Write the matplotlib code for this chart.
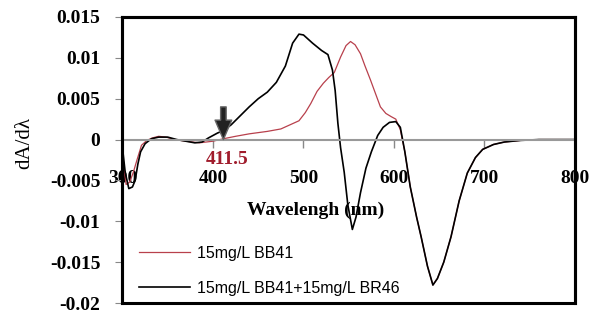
import matplotlib
matplotlib.use("Agg")
import matplotlib.pyplot as plt
from matplotlib.patches import Rectangle

# BB41 alone (red)
wl_bb41 = [300, 301, 304, 308, 312, 316, 321, 327, 333, 340, 348, 358, 370, 385, 400,
           411.5, 425, 440, 460, 475, 485, 495, 502, 508, 515, 522, 528, 534, 541, 547,
           552, 557, 563, 568, 574, 580, 585, 591, 597, 602, 607, 612, 618, 625, 630,
           637, 643, 648, 655, 663, 672, 681, 690, 698, 710, 722, 740, 760, 780, 800]
dA_bb41 = [0.0, -0.003, -0.0055, -0.0052, -0.004, -0.0025, -0.0007, -0.0001, 0.0002, 0.0004,
           0.0003, 0.0, -0.0002, -0.0004, -0.0002, 0.0001, 0.0004, 0.0007, 0.001, 0.0013,
           0.0018, 0.0023, 0.0033, 0.0044, 0.0059, 0.0069, 0.0076, 0.0082, 0.0101, 0.0115,
           0.012, 0.0116, 0.0105, 0.009, 0.0073, 0.0055, 0.004, 0.0032, 0.0028, 0.0025,
           0.0012, -0.0015, -0.0058, -0.0095, -0.0119, -0.0155, -0.0178, -0.017, -0.015,
           -0.0119, -0.0075, -0.0041, -0.0022, -0.0012, -0.0006, -0.0003, -0.0001, 0.0, 0.0, 0.0]

# BB41 + BR46 mixture (black)
wl_mix = [300, 303, 307, 311, 314, 317, 320, 325, 332, 340, 350, 360, 370, 380, 388, 395,
          405, 411.5, 420, 430, 440, 450, 460, 470, 480, 488, 495, 500, 510, 520, 527, 532,
          535, 538, 541, 545, 549, 554, 558, 563, 569, 575, 582, 588, 595, 602, 607, 612,
          618, 625, 630, 637, 643, 648, 655, 663, 672, 681, 690, 698, 710, 722, 740, 760,
          780, 800]
dA_mix = [-0.001, -0.004, -0.006, -0.0058, -0.005, -0.003, -0.0015, -0.0005, 0.0001, 0.0003,
          0.0003, 0.0, -0.0002, -0.0004, -0.0003, 0.0002, 0.0008, 0.0011, 0.0018, 0.0029,
          0.004, 0.005, 0.0058, 0.007, 0.009, 0.0118, 0.0129, 0.0128, 0.0118, 0.0109, 0.0104,
          0.0085, 0.006, 0.002, -0.001, -0.004, -0.008, -0.011, -0.0095, -0.0065, -0.0035,
          -0.0015, 0.0005, 0.0015, 0.0021, 0.0022, 0.0015, -0.0015, -0.0058, -0.0095, -0.0119,
          -0.0155, -0.0178, -0.017, -0.015, -0.0119, -0.0075, -0.0041, -0.0022, -0.0012,
          -0.0006, -0.0003, -0.0001, 0.0, 0.0, 0.0]

xticks = [300, 400, 500, 600, 700, 800]
yticks = [-0.02, -0.015, -0.01, -0.005, 0, 0.005, 0.01, 0.015]
ytick_labels = ["-0.02", "-0.015", "-0.01", "-0.005", "0", "0.005", "0.01", "0.015"]
peak_wl = 411.5

serif = "Liberation Serif"

fig = plt.figure(figsize=(5.94, 3.14), dpi=100)
ax = fig.add_axes([0.2062, 0.035, 0.7618, 0.9109])

ax.plot(wl_bb41, dA_bb41, color="#b8404c", lw=0.9, label="15mg/L BB41")
ax.plot(wl_mix, dA_mix, color="black", lw=1.2, label="15mg/L BB41+15mg/L BR46")

ax.set_xlim(300, 800)
ax.set_ylim(-0.02, 0.015)

# black frame around the plot area
for side in ["top", "right", "left"]:
    ax.spines[side].set_linewidth(2.2)
    ax.spines[side].set_color("black")
ax.add_patch(Rectangle((0, 0), 1, 1, transform=ax.transAxes, fill=False,
                       edgecolor="black", lw=2.2, clip_on=False, zorder=5))

# x axis crosses at y = 0 (gray)
ax.spines["bottom"].set_position(("data", 0))
ax.spines["bottom"].set_color("#999")
ax.spines["bottom"].set_linewidth(1.5)
ax.set_xticks(xticks)
ax.set_xticklabels([str(t) for t in xticks], fontfamily=serif, fontweight="bold", fontsize=14)
ax.tick_params(axis="x", direction="out", length=6, color="#888", width=1, pad=16)

# y axis
ax.set_yticks(yticks)
ax.set_yticklabels(ytick_labels, fontfamily=serif, fontweight="bold", fontsize=14)
ax.tick_params(axis="y", direction="out", length=5, color="#888", pad=11)

# arrow and 411.5 label
ax.annotate("", xy=(peak_wl, 0.0), xytext=(peak_wl, 0.004),
            arrowprops=dict(facecolor="#222", edgecolor="#666", width=4,
                            headwidth=12, headlength=14, shrink=0))
ax.text(416, -0.0024, "411.5", color="#a01c2c", fontfamily=serif, fontweight="bold",
        fontsize=14, ha="center", va="center")

ax.text(316 / 594, 1 - 210 / 314, "Wavelengh (nm)", transform=fig.transFigure,
        fontfamily=serif, fontweight="bold", fontsize=14, ha="center", va="center")
fig.text(25 / 594, 1 - 143 / 314, "dA/d\u03bb", rotation=90, fontfamily=serif,
         fontsize=15, ha="center", va="center")

leg = ax.legend(loc="lower left", bbox_to_anchor=(139 / 594, 1 - 296 / 314),
                bbox_transform=fig.transFigure, frameon=False, borderpad=0,
                borderaxespad=0, handlelength=3.2, handletextpad=0.45,
                labelspacing=1.25, prop={"family": "Liberation Sans", "size": 11.5})

fig.savefig("out.png", dpi=100)
